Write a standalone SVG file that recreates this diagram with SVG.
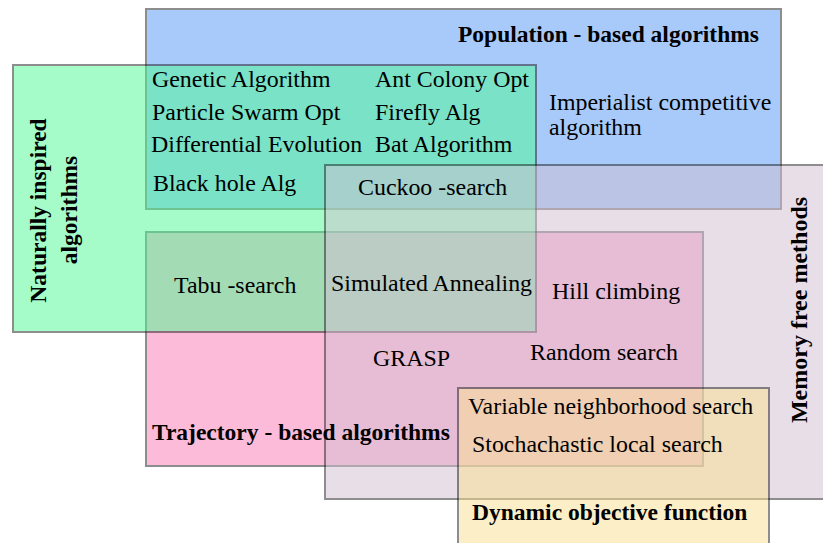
<svg xmlns="http://www.w3.org/2000/svg" width="823" height="543" viewBox="0 0 823 543">
<style>
.set{opacity:0.5;stroke:#1e1e1e;stroke-width:2}
text{font-family:"Liberation Serif","Times New Roman",serif;font-size:23.9px;fill:#000}
.b{font-weight:bold;font-size:23.5px}
</style>
<rect width="823" height="543" fill="#fff"/>
<g id="population"><rect class="set" x="146" y="9" width="635" height="200" fill="#5397f7"/></g>
<g id="trajectory"><rect class="set" x="146" y="232" width="557" height="234" fill="#fb79b3"/></g>
<g id="natural"><rect class="set" x="13" y="65" width="523" height="267" fill="#4dfb93"/></g>
<g id="memoryfree"><rect class="set" x="325" y="165" width="520" height="334" fill="#d1bfd1"/></g>
<g id="dynamic"><rect class="set" x="458" y="388" width="311" height="175" fill="#fbe191"/></g>
<g id="connectors"></g>
<g id="labels">
<text class="b" x="458" y="42">Population - based algorithms</text>
<text class="b" transform="translate(46,210.5) rotate(-90)" text-anchor="middle">Naturally inspired</text>
<text class="b" transform="translate(77,210) rotate(-90)" text-anchor="middle">algorithms</text>
<text class="b" transform="translate(807,310) rotate(-90)" text-anchor="middle" style="font-size:24px">Memory free methods</text>
<text class="b" x="152" y="440">Trajectory - based algorithms</text>
<text class="b" x="472" y="520">Dynamic objective function</text>
</g>
<g id="items">
<text x="152" y="87">Genetic Algorithm</text>
<text x="152" y="120">Particle Swarm Opt</text>
<text x="151" y="152">Differential Evolution</text>
<text x="153" y="191">Black hole Alg</text>
<text x="375" y="87">Ant Colony Opt</text>
<text x="375" y="120">Firefly Alg</text>
<text x="375" y="152">Bat Algorithm</text>
<text x="549" y="110">Imperialist competitive</text>
<text x="549" y="135">algorithm</text>
<text x="358" y="195">Cuckoo -search</text>
<text x="174" y="293">Tabu -search</text>
<text x="331" y="291">Simulated Annealing</text>
<text x="552" y="299">Hill climbing</text>
<text x="373" y="366">GRASP</text>
<text x="530" y="360">Random search</text>
<text x="468" y="414">Variable neighborhood search</text>
<text x="472" y="452">Stochachastic local search</text>
</g>
</svg>
